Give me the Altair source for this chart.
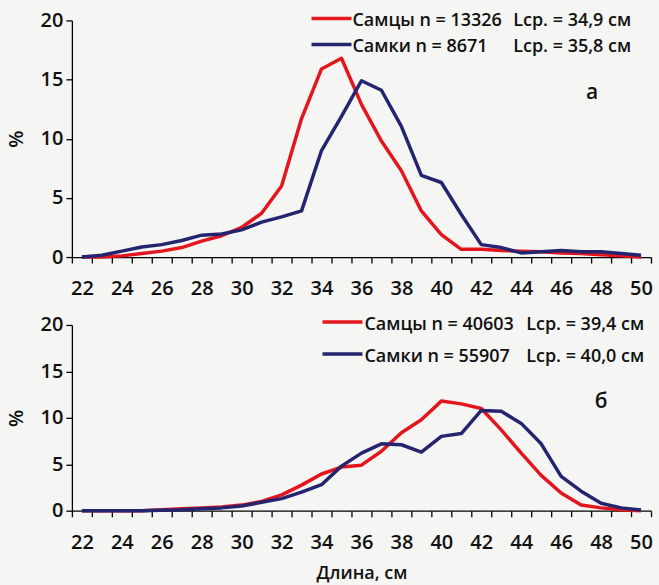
import altair as alt
import pandas as pd

FONT = "Open Sans"

# Length classes, cm
lengths = [22, 23, 24, 25, 26, 27, 28, 29, 30, 31, 32, 33, 34, 35, 36,
           37, 38, 39, 40, 41, 42, 43, 44, 45, 46, 47, 48, 49, 50]

# Panel "а": share of each length class, %
males_a = [0.0, 0.0, 0.1, 0.3, 0.5, 0.8, 1.35, 1.8, 2.5, 3.7, 6.0, 11.7, 15.9, 16.8, 12.9,
           9.8, 7.3, 3.9, 1.9, 0.65, 0.65, 0.55, 0.5, 0.45, 0.35, 0.3, 0.2, 0.1, 0.0]
females_a = [0.0, 0.15, 0.5, 0.85, 1.05, 1.4, 1.85, 1.95, 2.3, 2.95, 3.4, 3.9, 9.0, 11.9, 14.9,
             14.1, 11.05, 6.9, 6.3, 3.6, 1.05, 0.8, 0.35, 0.45, 0.55, 0.45, 0.45, 0.3, 0.15]

# Panel "б"
males_b = [0.0, 0.0, 0.0, 0.0, 0.1, 0.2, 0.3, 0.4, 0.6, 1.0, 1.7, 2.75, 3.95, 4.7, 4.9,
           6.4, 8.4, 9.8, 11.8, 11.5, 11.0, 8.7, 6.2, 3.8, 1.9, 0.6, 0.3, 0.1, 0.0]
females_b = [0.0, 0.0, 0.0, 0.0, 0.05, 0.1, 0.2, 0.3, 0.5, 0.9, 1.3, 2.0, 2.8, 4.8, 6.2,
             7.2, 7.1, 6.3, 8.0, 8.3, 10.8, 10.7, 9.4, 7.2, 3.7, 2.1, 0.8, 0.3, 0.07]

sexes = ["Самцы", "Самки"]
n_a = ["13326", "8671"]
mean_a = ["34,9", "35,8"]
n_b = ["40603", "55907"]
mean_b = ["39,4", "40,0"]
colors = ["#e3161d", "#25246f"]

y_ticks = [0, 5, 10, 15, 20]
x_labels = [22, 24, 26, 28, 30, 32, 34, 36, 38, 40, 42, 44, 46, 48, 50]
# tick marks sit between length classes
x_marks = [v - 0.5 for v in lengths] + [lengths[-1] + 0.5]

TXT = dict(font=FONT, color="#111", fontWeight=600)


def legend_row(name, count, mean, color, sym_x, line_y, col1_x, col2_x):
    """One key entry: a short line sample and two text columns."""
    d = pd.DataFrame({"a": [f"{name} n = {count}"], "b": [f"Lср. = {mean} см"]})
    base = alt.Chart(d)
    sample = base.mark_rule(color=color, strokeWidth=3.5).encode(
        x=alt.value(sym_x), x2=alt.value(sym_x + 40), y=alt.value(line_y))
    left = base.mark_text(align="left", baseline="middle", fontSize=18, **TXT).encode(
        x=alt.value(col1_x), y=alt.value(line_y + 3), text="a:N")
    right = base.mark_text(align="left", baseline="middle", fontSize=18, **TXT).encode(
        x=alt.value(col2_x), y=alt.value(line_y + 3), text="b:N")
    return [sample, left, right]


def panel(males, females, counts, means, letter, height, key, letter_xy, x_title):
    df = pd.concat([
        pd.DataFrame({"length": lengths, "pct": males, "series": sexes[0]}),
        pd.DataFrame({"length": lengths, "pct": females, "series": sexes[1]}),
    ])

    x_axis = alt.Axis(
        values=sorted(x_labels + x_marks),
        labelExpr="datum.value % 2 == 0 ? format(datum.value, 'd') : ''",
        tickOpacity={"condition": {"test": "datum.value % 1 != 0", "value": 1}, "value": 0},
        labelOverlap=False, labelFlush=False, labelBound=False,
        grid=False, tickSize=6, tickColor="black", tickWidth=1.3,
        domainColor="black", domainWidth=1.3,
        labelFont=FONT, labelFontSize=20, labelFontWeight=600, labelColor="#111",
        labelPadding=16,
        title=x_title if x_title else None,
        titleFont=FONT, titleFontSize=18, titleFontWeight=600, titleColor="#111",
        titlePadding=12,
    )
    y_axis = alt.Axis(
        values=y_ticks, grid=False, tickSize=6, tickColor="black", tickWidth=1.3,
        domainColor="black", domainWidth=1.3,
        labelFont=FONT, labelFontSize=20, labelFontWeight=600, labelColor="#111",
        labelPadding=3,
        title="%", titleFont=FONT, titleFontSize=20, titleFontWeight=600,
        titleColor="#111", titlePadding=14,
    )

    lines = alt.Chart(df).mark_line(strokeWidth=3.5, strokeJoin="round").encode(
        x=alt.X("length:Q", scale=alt.Scale(domain=[21.5, 50.5], nice=False, zero=False),
                axis=x_axis),
        y=alt.Y("pct:Q", scale=alt.Scale(domain=[0, 20], nice=False), axis=y_axis),
        color=alt.Color("series:N", scale=alt.Scale(domain=sexes, range=colors), legend=None),
        order=alt.Order("series:N", sort="ascending"),
    )

    sym_x, ys, col1_x, col2_x = key
    rows = []
    for i in range(2):
        rows += legend_row(sexes[i], counts[i], means[i], colors[i], sym_x, ys[i], col1_x, col2_x)

    tag = alt.Chart(pd.DataFrame({"t": [letter]})).mark_text(
        fontSize=21, align="center", baseline="middle", **TXT
    ).encode(x=alt.value(letter_xy[0]), y=alt.value(letter_xy[1]), text="t:N")

    return alt.layer(lines, *rows, tag).properties(width=580, height=height)


top = panel(males_a, females_a, n_a, mean_a, "а", 237,
            (240, (-2, 24), 281, 442), (521, 73), None)
bottom = panel(males_b, females_b, n_b, mean_b, "б", 186,
               (251, (-3, 29), 293, 455), (530, 77), "Длина, см")

chart = alt.vconcat(top, bottom, spacing=68, bounds="flush").properties(
    background="#f5f5f4",
    padding={"left": 6, "top": 10, "right": 6, "bottom": 4},
).configure_view(stroke=None)

chart.save("out.html", embed_options={"renderer": "svg", "actions": False})
